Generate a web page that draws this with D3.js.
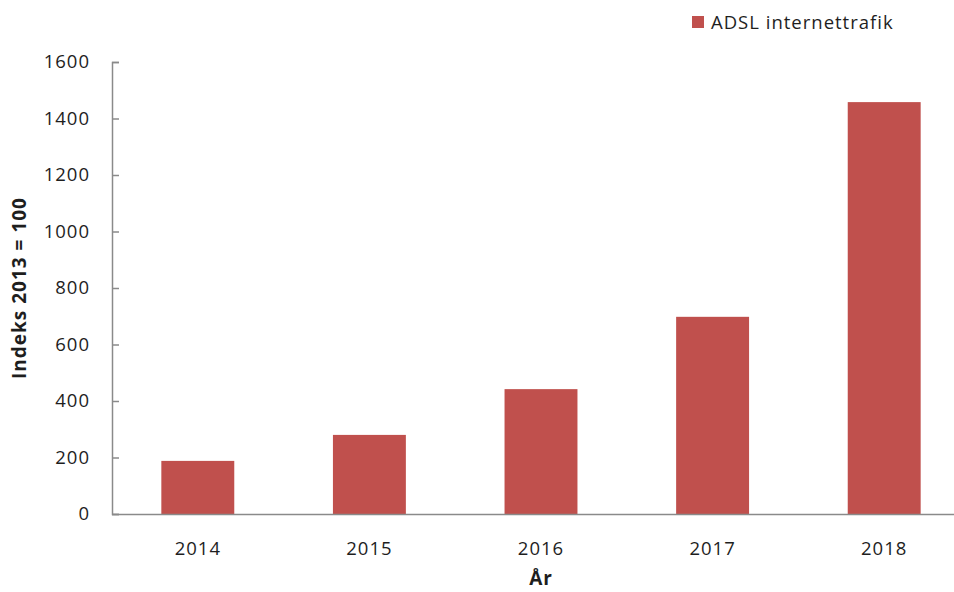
<!DOCTYPE html>
<html><head><meta charset="utf-8">
<script src="https://cdn.jsdelivr.net/npm/d3@7"></script>
<style>body{margin:0;background:#fff}svg{display:block}text{font-family:"Open Sans","Noto Sans",sans-serif;fill:#1e1e1e}</style>
</head><body>
<svg id="c" width="954" height="592"></svg>
<script>
const years = ["2014","2015","2016","2017","2018"];
const values = [188, 280, 442, 698, 1458];
const yTicks = [0,200,400,600,800,1000,1200,1400,1600];
const seriesName = "ADSL internettrafik";
const yTitle = "Indeks 2013 = 100";
const xTitle = "År";

const svg = d3.select("#c");
const mLeft = 112, mBottom = 514, mTop = 62, mRight = 970;
const x = d3.scaleBand().domain(years).range([mLeft, mRight]).paddingInner(0.575).paddingOuter(0.2875);
const y = d3.scaleLinear().domain([0,1600]).range([mBottom, mTop]);
const axisColor = "#8a8a8a";
const fs = 18.5;

svg.selectAll("rect.bar").data(years).enter().append("rect")
  .attr("class","bar")
  .attr("x", d => x(d)).attr("width", x.bandwidth())
  .attr("y", (d,i) => y(values[i])).attr("height", (d,i) => mBottom - y(values[i]))
  .attr("fill", "#C0504D");

const ya = svg.append("g").attr("transform", `translate(${mLeft},0)`)
  .call(d3.axisLeft(y).tickValues(yTicks).tickSizeInner(-7).tickSizeOuter(-7).tickPadding(22).tickFormat(d3.format("d")));
ya.selectAll("path,line").attr("stroke", axisColor).attr("stroke-width", 1.5);
ya.selectAll("text").attr("font-size", fs).attr("font-family","'Open Sans',sans-serif")
  .attr("letter-spacing", 1).style("fill","#1e1e1e");

const xa = svg.append("g").attr("transform", `translate(0,${mBottom})`)
  .call(d3.axisBottom(x).tickSize(0).tickPadding(28));
xa.select("path").attr("stroke", axisColor).attr("stroke-width", 1.5).attr("d", `M${mLeft},0.5H954`);
xa.selectAll("text").attr("font-size", fs).attr("font-family","'Open Sans',sans-serif")
  .attr("letter-spacing", 1).style("fill","#1e1e1e");

svg.append("text").attr("transform", `translate(26,${(mTop+mBottom)/2}) rotate(-90)`)
  .attr("text-anchor","middle").attr("font-size",19).attr("font-weight","bold").attr("letter-spacing",1).text(yTitle);
svg.append("text").attr("x", x("2016") + x.bandwidth()/2).attr("y", 585)
  .attr("text-anchor","middle").attr("font-size",19).attr("font-weight","bold").attr("letter-spacing",1).text(xTitle);

svg.append("rect").attr("x",692).attr("y",16).attr("width",12).attr("height",12).attr("fill","#C0504D");
svg.append("text").attr("x",711).attr("y",29).attr("font-size",fs).attr("letter-spacing",1).text(seriesName);
</script>
</body></html>
